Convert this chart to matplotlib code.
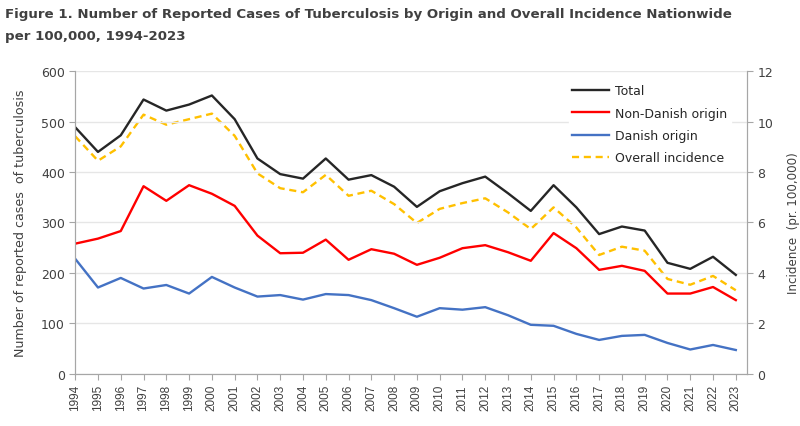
import matplotlib
matplotlib.use("Agg")
import matplotlib.pyplot as plt

years = list(range(1994, 2024))
total = [489, 440, 473, 544, 522, 534, 552, 505, 427, 396, 387, 427, 385, 394, 371, 331,
         362, 378, 391, 358, 323, 374, 330, 277, 292, 284, 220, 208, 232, 196]
non_danish = [258, 268, 283, 372, 343, 374, 357, 333, 274, 239, 240, 266, 226, 247, 238, 216,
              230, 249, 255, 241, 224, 279, 249, 206, 214, 204, 159, 159, 172, 146]
danish = [228, 171, 190, 169, 176, 159, 192, 171, 153, 156, 147, 158, 156, 146, 130, 113,
          130, 127, 132, 116, 97, 95, 79, 67, 75, 77, 61, 48, 57, 47]
incidence = [9.42, 8.45, 9.02, 10.28, 9.88, 10.1, 10.32, 9.44, 7.95, 7.36, 7.2, 7.89, 7.06, 7.26,
             6.73, 5.98, 6.54, 6.77, 6.96, 6.4, 5.74, 6.6, 5.8, 4.71, 5.04, 4.88, 3.76, 3.53,
             3.88, 3.31]

title = ("Figure 1. Number of Reported Cases of Tuberculosis by Origin and Overall Incidence Nationwide\n"
         "per 100,000, 1994-2023")

txt = "#404040"
spine = "#a6a6a6"
fig = plt.figure(figsize=(8, 4.27), dpi=100)
ax = fig.add_axes([0.094, 0.1225, 0.84, 0.7082])
ax2 = ax.twinx()

l1, = ax.plot(years, total, color="#262626", lw=1.7, label="Total")
l2, = ax.plot(years, non_danish, color="#ff0000", lw=1.7, label="Non-Danish origin")
l3, = ax.plot(years, danish, color="#4472c4", lw=1.7, label="Danish origin")
l4, = ax2.plot(years, incidence, color="#ffc000", lw=1.7, ls=(0, (3, 2)), label="Overall incidence")

ax.set_xlim(1994, 2023.5)
ax.set_ylim(0, 600)
ax2.set_ylim(0, 12)
ax.set_yticks(range(0, 601, 100))
ax2.set_yticks(range(0, 13, 2))
ax.set_xticks(years)
ax.set_xticklabels([str(y) for y in years], rotation=90, fontsize=8.5, color=txt,
                   family="Liberation Sans")
ax.tick_params(axis="y", labelsize=9, labelcolor=txt, color=spine, length=4)
ax.tick_params(axis="x", color=spine, length=4)
ax2.tick_params(axis="y", labelsize=9, labelcolor=txt, color=spine, length=4)
ax.grid(axis="y", color="#e6e6e6", lw=1)
ax.set_axisbelow(True)
for a in (ax, ax2):
    a.spines["top"].set_visible(False)
    for s in ("left", "right", "bottom"):
        a.spines[s].set_color(spine)
ax.set_ylabel("Number of reported cases  of tuberculosis", fontsize=9.1, color=txt, labelpad=10)
ax2.set_ylabel("Incidence  (pr. 100,000)", fontsize=8.6, color=txt, labelpad=10)

leg = ax.legend(handles=[l1, l2, l3, l4], loc="upper right", bbox_to_anchor=(0.985, 0.99),
                frameon=True, fontsize=9, handlelength=2.9, labelspacing=0.75,
                borderpad=0.3, handletextpad=0.5)
leg.get_frame().set_edgecolor("white")
leg.get_frame().set_facecolor("white")
leg.get_frame().set_alpha(1)
for t in leg.get_texts():
    t.set_color("#262626")
ax.set_zorder(ax2.get_zorder() + 1)
ax.patch.set_visible(False)

fig.text(0.006, 0.982, title, ha="left", va="top", fontsize=9.6, fontweight="bold",
         color=txt, linespacing=1.95)
fig.savefig("out.png", dpi=100)
